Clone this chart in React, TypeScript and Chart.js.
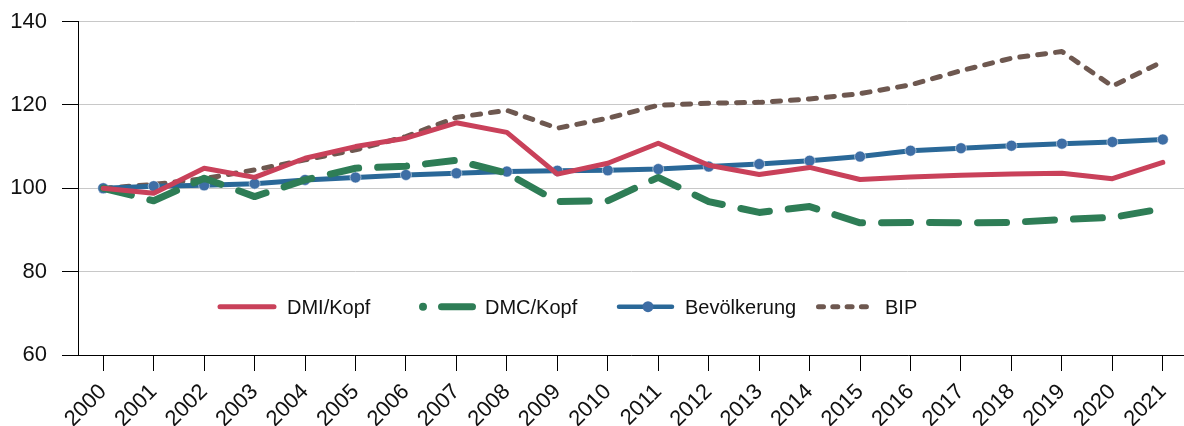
import React, { useEffect, useRef } from "react";
import { Chart, registerables } from "chart.js";

Chart.register(...registerables);

const years = ["2000","2001","2002","2003","2004","2005","2006","2007","2008","2009","2010","2011","2012","2013","2014","2015","2016","2017","2018","2019","2020","2021"];
const dmiKopf = [100, 98.8, 104.8, 102.6, 107.2, 110.0, 112.0, 115.7, 113.4, 103.4, 106.0, 110.8, 105.5, 103.3, 105.0, 102.1, 102.7, 103.1, 103.4, 103.6, 102.3, 106.2];
const dmcKopf = [100, 97.0, 102.4, 98.0, 102.0, 104.8, 105.3, 106.7, 103.6, 96.8, 97.0, 102.6, 96.8, 94.2, 95.6, 91.7, 91.8, 91.7, 91.8, 92.5, 93.0, 95.1];
const bevoelkerung = [100, 100.5, 100.7, 101.1, 102.0, 102.6, 103.2, 103.6, 104.0, 104.2, 104.3, 104.6, 105.2, 105.8, 106.6, 107.6, 109.0, 109.6, 110.2, 110.7, 111.1, 111.7];
const bip = [100, 100.9, 102.3, 104.4, 106.8, 109.2, 112.4, 117.0, 118.7, 114.4, 116.8, 119.9, 120.4, 120.6, 121.4, 122.7, 124.8, 128.2, 131.2, 132.8, 124.5, 130.4];
const seriesNames = ["DMI/Kopf", "DMC/Kopf", "Bevölkerung", "BIP"];
const yTicks = [60, 80, 100, 120, 140];

const RED = "#C9415A";
const GREEN = "#2E7D56";
const BLUE = "#2A6898";
const BLUE_PT = "#3E6EA5";
const BROWN = "#6E5850";
const FONT = "'Liberation Sans', Arial, sans-serif";

const toXY = (arr: number[]) => arr.map((y, i) => ({ x: i, y }));

const legendPlugin = {
  id: "customLegend",
  afterDraw(chart: any) {
    const ctx = chart.ctx;
    const ly = 306.7;
    ctx.save();
    ctx.lineCap = "round";
    ctx.strokeStyle = RED;
    ctx.lineWidth = 5;
    ctx.beginPath(); ctx.moveTo(220, ly); ctx.lineTo(274, ly); ctx.stroke();
    ctx.fillStyle = GREEN;
    ctx.beginPath(); ctx.arc(423, ly, 4, 0, Math.PI * 2); ctx.fill();
    ctx.strokeStyle = GREEN;
    ctx.lineWidth = 7;
    ctx.beginPath(); ctx.moveTo(441.5, ly); ctx.lineTo(472.5, ly); ctx.stroke();
    ctx.strokeStyle = BLUE;
    ctx.lineWidth = 4.5;
    ctx.beginPath(); ctx.moveTo(619, ly); ctx.lineTo(672, ly); ctx.stroke();
    ctx.fillStyle = BLUE_PT;
    ctx.beginPath(); ctx.arc(648, ly, 5.5, 0, Math.PI * 2); ctx.fill();
    ctx.strokeStyle = BROWN;
    ctx.lineWidth = 5;
    ctx.setLineDash([5, 9.3]);
    ctx.beginPath(); ctx.moveTo(818.5, ly); ctx.lineTo(872, ly); ctx.stroke();
    ctx.setLineDash([]);
    ctx.fillStyle = "#111";
    ctx.font = `20px ${FONT}`;
    ctx.textBaseline = "alphabetic";
    ctx.textAlign = "left";
    ctx.fillText(seriesNames[0], 287, 314);
    ctx.fillText(seriesNames[1], 485, 314);
    ctx.fillText(seriesNames[2], 685, 314);
    ctx.fillText(seriesNames[3], 885, 314);
    ctx.restore();
  },
};

export default function App() {
  const ref = useRef<HTMLCanvasElement | null>(null);
  useEffect(() => {
    if (!ref.current) return;
    const chart = new Chart(ref.current, {
      type: "line",
      data: {
        datasets: [
          {
            label: seriesNames[0],
            data: toXY(dmiKopf),
            borderColor: RED,
            borderWidth: 5,
            pointRadius: 0,
            borderJoinStyle: "round",
            borderCapStyle: "round",
            tension: 0,
          },
          {
            label: seriesNames[1],
            data: toXY(dmcKopf),
            borderColor: GREEN,
            borderWidth: 7,
            borderDash: [29, 19],
            borderCapStyle: "round",
            borderJoinStyle: "round",
            pointRadius: 0,
            tension: 0,
          },
          {
            label: seriesNames[2],
            data: toXY(bevoelkerung),
            borderColor: BLUE,
            borderWidth: 5,
            pointRadius: 5.5,
            pointBackgroundColor: BLUE_PT,
            pointBorderColor: "rgba(255,255,255,0.5)",
            pointBorderWidth: 1,
            tension: 0,
          },
          {
            label: seriesNames[3],
            data: toXY(bip),
            borderColor: BROWN,
            borderWidth: 5,
            borderDash: [8, 10],
            borderCapStyle: "round",
            borderJoinStyle: "round",
            pointRadius: 0,
            tension: 0,
          },
        ],
      },
      options: {
        responsive: false,
        animation: false,
        devicePixelRatio: 1,
        layout: { autoPadding: false, padding: { top: 21.5, right: 0, bottom: 0, left: 0 } },
        plugins: { legend: { display: false }, tooltip: { enabled: false } },
        scales: {
          x: {
            type: "linear",
            min: -0.5,
            max: 21.42,
            afterBuildTicks: (scale: any) => {
              scale.ticks = years.map((_, i) => ({ value: i }));
            },
            afterFit: (scale: any) => {
              scale.height = 71;
              scale.paddingLeft = 0;
              scale.paddingRight = 0;
            },
            ticks: {
              autoSkip: false,
              maxRotation: 45,
              minRotation: 45,
              padding: 8,
              color: "#111",
              font: { size: 22, family: FONT },
              callback: (v: any) => years[Math.round(v)] ?? "",
            },
            grid: {
              drawOnChartArea: false,
              drawTicks: true,
              tickLength: 16,
              tickColor: "#000",
              lineWidth: 1,
            },
            border: { display: true, color: "#000", width: 1 },
          },
          y: {
            min: 60,
            max: 140,
            afterBuildTicks: (scale: any) => {
              scale.ticks = yTicks.map((v) => ({ value: v }));
            },
            afterFit: (scale: any) => {
              scale.width = 78;
              scale.paddingTop = 0;
              scale.paddingBottom = 0;
            },
            ticks: {
              padding: 15,
              color: "#111",
              font: { size: 22, family: FONT },
            },
            grid: {
              color: "#C8C8C8",
              lineWidth: 1,
              tickLength: 16,
              tickColor: "#000",
            },
            border: { display: true, color: "#000", width: 1 },
          },
        },
      },
      plugins: [legendPlugin],
    } as any);
    return () => chart.destroy();
  }, []);
  return (
    <div style={{ position: "absolute", left: 0, top: 0, width: 1184, height: 426, background: "#fff" }}>
      <canvas ref={ref} width={1184} height={426} style={{ display: "block" }} />
    </div>
  );
}
